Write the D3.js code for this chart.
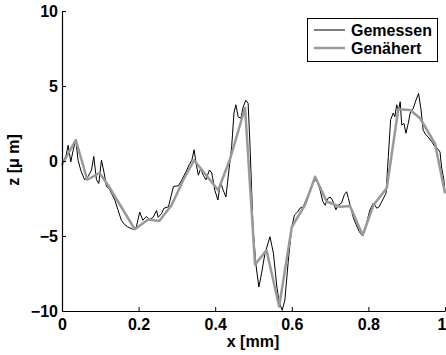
<!DOCTYPE html>
<html>
<head>
<meta charset="utf-8">
<script src="https://cdn.jsdelivr.net/npm/d3@7"></script>
<style>
  html, body { margin: 0; padding: 0; background: #fff; }
  svg { display: block; }
  text { font-family: "Liberation Sans", Arial, Helvetica, sans-serif; font-weight: bold; fill: #000; }
</style>
</head>
<body>
<script>
// Measured surface profile (x in mm, z in µm)
const measuredX = [0.000,0.003,0.011,0.016,0.023,0.029,0.036,0.042,0.050,0.059,0.068,0.077,0.083,0.090,0.096,0.103,0.110,0.116,0.122,0.129,0.138,0.146,0.155,0.164,0.172,0.185,0.194,0.203,0.211,0.220,0.229,0.238,0.247,0.251,0.260,0.266,0.278,0.291,0.304,0.313,0.326,0.332,0.339,0.345,0.350,0.356,0.362,0.369,0.376,0.385,0.391,0.399,0.407,0.414,0.421,0.428,0.435,0.443,0.449,0.454,0.460,0.467,0.473,0.480,0.486,0.491,0.499,0.507,0.514,0.521,0.530,0.543,0.552,0.561,0.567,0.575,0.582,0.591,0.600,0.607,0.615,0.621,0.630,0.637,0.648,0.656,0.665,0.674,0.681,0.687,0.694,0.700,0.706,0.715,0.721,0.730,0.737,0.743,0.748,0.754,0.761,0.768,0.776,0.783,0.789,0.795,0.804,0.813,0.822,0.828,0.837,0.846,0.852,0.858,0.865,0.869,0.874,0.878,0.883,0.887,0.893,0.898,0.904,0.910,0.917,0.924,0.931,0.937,0.943,0.950,0.956,0.965,0.974,0.980,0.987,0.991,0.997,1.000];
const measuredZ = [-0.3,-0.05,0.4,1.05,-0.05,0.7,1.4,0.05,-0.7,-1.25,-1.05,-0.6,0.3,-1.25,-1.5,0.05,-0.8,-1.7,-1.8,-2.15,-2.6,-3.25,-3.95,-4.25,-4.4,-4.55,-4.4,-3.4,-3.95,-3.7,-3.9,-3.75,-3.3,-3.75,-3.5,-3.15,-3.05,-1.7,-1.65,-1.25,-0.6,-0.25,0.05,0.75,-0.15,-0.95,-0.5,-0.95,-1.25,-0.6,-0.8,-1.95,-2.6,-1.4,-1.95,-2.4,-0.8,0.95,3.2,3.75,2.95,2.85,3.6,4.05,3.85,0.95,-4.6,-7.05,-8.4,-7.5,-6.15,-5.05,-6.15,-8.4,-9.4,-9.95,-9.25,-6.6,-4.4,-3.6,-3.4,-3.15,-3.05,-2.6,-1.95,-1.4,-1.25,-1.95,-2.7,-2.95,-2.5,-2.4,-2.6,-3.25,-2.95,-2.8,-2.25,-2.05,-2.5,-3.15,-3.8,-4.25,-4.7,-4.95,-4.8,-4.15,-3.25,-2.8,-3.15,-3.05,-2.6,-2.15,0.3,2.75,3.2,2.95,3.75,3.3,3.95,2.4,2.5,1.85,2.5,3.3,3.5,4.05,4.5,3.5,2.05,1.75,1.6,1.3,0.95,0.85,0.6,-0.4,-1.25,-2.15];

// Piecewise-linear approximation of the profile
const fitX = [0.000,0.036,0.066,0.098,0.120,0.190,0.225,0.254,0.286,0.317,0.345,0.408,0.439,0.478,0.504,0.534,0.567,0.600,0.634,0.661,0.691,0.726,0.752,0.785,0.813,0.848,0.878,0.909,0.935,0.974,1.000];
const fitZ = [-0.25,1.4,-1.25,-0.8,-1.6,-4.55,-3.9,-4.0,-2.95,-1.25,0.05,-1.95,0.15,3.55,-6.9,-5.95,-9.7,-4.4,-2.95,-1.05,-2.7,-3.05,-3.0,-4.95,-2.95,-1.8,3.45,3.4,2.85,1.15,-2.15];

const xTicks = [0, 0.2, 0.4, 0.6, 0.8, 1];
const xTickLabels = ["0", "0.2", "0.4", "0.6", "0.8", "1"];
const yTicks = [-10, -5, 0, 5, 10];
const yTickLabels = ["\u221210", "\u22125", "0", "5", "10"];

const seriesNames = ["Gemessen", "Genähert"];
const xTitle = "x [mm]";
const yTitle = "z [\u03bc m]";

const W = 446, H = 355;
const FS = 16;

const svg = d3.select("body").append("svg")
  .attr("width", W).attr("height", H);

const x = d3.scaleLinear().domain([0, 1]).range([62, 445]);
const y = d3.scaleLinear().domain([-10, 10]).range([311, 11]);

const line = d3.line().x(d => x(d[0])).y(d => y(d[1]));

// Data lines: measured first, approximation drawn over it
svg.append("path")
  .datum(d3.zip(measuredX, measuredZ))
  .attr("d", line)
  .attr("fill", "none")
  .attr("stroke", "#000")
  .attr("stroke-width", 1)
  .attr("stroke-linejoin", "round");

svg.append("path")
  .datum(d3.zip(fitX, fitZ))
  .attr("d", line)
  .attr("fill", "none")
  .attr("stroke", "#999")
  .attr("stroke-width", 2.5)
  .attr("stroke-linejoin", "round");

// Axes with inward ticks
const xAxis = d3.axisBottom(x)
  .tickValues(xTicks)
  .tickFormat((d, i) => xTickLabels[i])
  .tickSizeInner(-4).tickSizeOuter(0).tickPadding(8);

const yAxis = d3.axisLeft(y)
  .tickValues(yTicks)
  .tickFormat((d, i) => yTickLabels[i])
  .tickSizeInner(-4).tickSizeOuter(0).tickPadding(4);

const gx = svg.append("g").attr("transform", `translate(0,${y(-10)})`).call(xAxis);
const gy = svg.append("g").attr("transform", `translate(${x(0)},0)`).call(yAxis);

[gx, gy].forEach(g => {
  g.selectAll("path.domain").attr("stroke", "#000").attr("stroke-width", 1.2);
  g.selectAll(".tick line").attr("stroke", "#000").attr("stroke-width", 1);
  g.selectAll(".tick text")
    .style("font-family", '"Liberation Sans", Arial, Helvetica, sans-serif')
    .style("font-weight", "bold")
    .style("font-size", FS + "px")
    .attr("fill", "#000");
});

// The last x label sits at the right edge of the page; keep it inside
gx.selectAll(".tick text")
  .filter(d => d === 1)
  .attr("text-anchor", "end")
  .attr("x", 1);

// Axis titles
svg.append("text")
  .attr("x", 253).attr("y", 347)
  .attr("text-anchor", "middle")
  .style("font-size", FS + "px")
  .text(xTitle);

svg.append("text")
  .attr("transform", "translate(19,160) rotate(-90)")
  .attr("text-anchor", "middle")
  .style("font-size", FS + "px")
  .text(yTitle);

// Legend
const legend = svg.append("g");
legend.append("rect")
  .attr("x", 307.5).attr("y", 18.5)
  .attr("width", 130).attr("height", 43)
  .attr("fill", "#fff")
  .attr("stroke", "#000").attr("stroke-width", 1);

const legendStyles = [
  { stroke: "#000", width: 1 },
  { stroke: "#999", width: 2.5 }
];
seriesNames.forEach((name, i) => {
  const cy = 30 + i * 18;
  legend.append("line")
    .attr("x1", 314).attr("x2", 345)
    .attr("y1", cy).attr("y2", cy)
    .attr("stroke", legendStyles[i].stroke)
    .attr("stroke-width", legendStyles[i].width);
  legend.append("text")
    .attr("x", 351).attr("y", cy + 6)
    .style("font-size", FS + "px")
    .text(name);
});
</script>
</body>
</html>
